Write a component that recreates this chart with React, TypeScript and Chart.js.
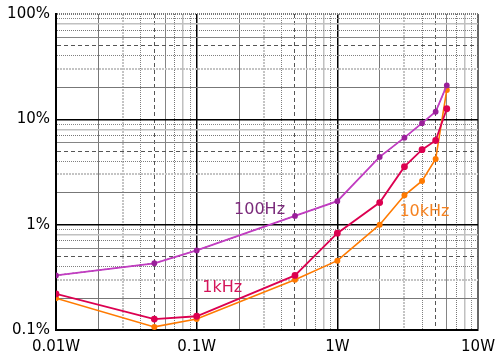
import React, { useEffect, useRef } from 'react';
import { Chart, registerables } from 'chart.js';

Chart.register(...registerables);

// Output power (W)
const powerW = [0.01, 0.05, 0.1, 0.5, 1, 2, 3, 4, 5, 6];
// THD+N (%) per frequency
const thd100Hz = [0.33, 0.43, 0.57, 1.21, 1.67, 4.4, 6.7, 9.2, 11.8, 21];
const thd1kHz = [0.22, 0.127, 0.135, 0.33, 0.83, 1.62, 3.55, 5.15, 6.3, 12.6];
const thd10kHz = [0.2, 0.107, 0.127, 0.3, 0.455, 1.0, 1.9, 2.6, 4.2, 19];

const seriesNames = ['100Hz', '1kHz', '10kHz'];
const seriesColors = ['#c23cc2', '#dc0050', '#ff7a00'];
const labelColors = ['#7a2a7a', '#d4145a', '#f58220'];
// label anchor positions in data units (W, %)
const labelX = [0.28, 0.152, 4.16];
const labelY = [1.39, 0.25, 1.33];

const xDecades = [0.01, 0.1, 1, 10];
const xTickLabels = ['0.01W', '0.1W', '1W', '10W'];
const yDecades = [0.1, 1, 10, 100];
const yTickLabels = ['0.1%', '1%', '10%', '100%'];
const multipliers = [1, 2, 3, 4, 5, 6, 7, 8, 9];

const buildLogTicks = (decades: number[]) => {
  const out: { value: number }[] = [];
  for (let i = 0; i < decades.length - 1; i++) {
    for (const m of multipliers) {
      out.push({ value: Number((decades[i] * m).toPrecision(6)) });
    }
  }
  out.push({ value: decades[decades.length - 1] });
  return out;
};

type GS = { color: string; width: number; dash: number[] };
const minorStyles: Record<number, GS> = {
  1: { color: '#000000', width: 1.5, dash: [] },
  2: { color: '#777777', width: 1, dash: [] },
  3: { color: '#c4c4c4', width: 2, dash: [2, 1] },
  4: { color: '#808080', width: 1, dash: [1, 1] },
  5: { color: '#555555', width: 1, dash: [4, 3] },
  6: { color: '#858585', width: 1, dash: [] },
  7: { color: '#777777', width: 1, dash: [1, 1] },
  8: { color: '#c0c0c0', width: 1.5, dash: [] },
  9: { color: '#858585', width: 1, dash: [1, 1] },
};

const styleFor = (ctx: any, max: number, edge: GS): GS => {
  const v = ctx && ctx.tick ? ctx.tick.value : undefined;
  if (v == null) return minorStyles[1];
  if (Math.abs(v - max) < 1e-9) return edge;
  const e = Math.floor(Math.log10(v) + 1e-9);
  const m = Math.round(v / Math.pow(10, e));
  return minorStyles[m] || minorStyles[2];
};

const xEdge: GS = { color: '#666666', width: 2, dash: [] };
const yEdge: GS = { color: '#777777', width: 2, dash: [1, 1] };

const tickFont = { family: '"DejaVu Sans", sans-serif', size: 15 };

const labelPlugin = {
  id: 'seriesLabels',
  afterDatasetsDraw(chart: any) {
    const { ctx, scales } = chart;
    const x = scales.x;
    const y = scales.y;
    ctx.save();
    ctx.font = '16px "DejaVu Sans", sans-serif';
    ctx.textAlign = 'center';
    ctx.textBaseline = 'middle';
    seriesNames.forEach((n, i) => {
      ctx.fillStyle = labelColors[i];
      ctx.fillText(n, x.getPixelForValue(labelX[i]), y.getPixelForValue(labelY[i]));
    });
    ctx.restore();
  },
};

export default function App() {
  const ref = useRef<HTMLCanvasElement | null>(null);

  useEffect(() => {
    if (!ref.current) return;
    const chart = new Chart(ref.current, {
      type: 'line',
      data: {
        labels: powerW,
        datasets: [
          {
            label: seriesNames[0],
            data: powerW.map((p, i) => ({ x: p, y: thd100Hz[i] })),
            borderColor: seriesColors[0],
            borderWidth: 1.8,
            pointRadius: 2,
            pointBackgroundColor: '#9a209a',
            pointBorderColor: '#9a209a',
            tension: 0,
          },
          {
            label: seriesNames[0] + ' overlay',
            data: powerW.map((p, i) => ({ x: p, y: thd100Hz[i] })),
            borderColor: '#1a1a1a',
            borderWidth: 1,
            borderDash: [2, 2],
            pointRadius: 0,
            tension: 0,
          },
          {
            label: seriesNames[1],
            data: powerW.map((p, i) => ({ x: p, y: thd1kHz[i] })),
            borderColor: seriesColors[1],
            borderWidth: 1.8,
            pointRadius: 2.5,
            pointBackgroundColor: seriesColors[1],
            pointBorderColor: seriesColors[1],
            tension: 0,
          },
          {
            label: seriesNames[2],
            data: powerW.map((p, i) => ({ x: p, y: thd10kHz[i] })),
            borderColor: seriesColors[2],
            borderWidth: 1.6,
            pointRadius: 2.2,
            pointBackgroundColor: seriesColors[2],
            pointBorderColor: seriesColors[2],
            tension: 0,
          },
        ],
      },
      options: {
        animation: false,
        responsive: true,
        maintainAspectRatio: false,
        layout: { padding: { top: 14, right: 22, left: 0, bottom: 0 } },
        plugins: { legend: { display: false }, tooltip: { enabled: false } },
        scales: {
          x: {
            type: 'logarithmic',
            min: 0.01,
            max: 10,
            afterBuildTicks: (scale: any) => {
              scale.ticks = buildLogTicks(xDecades);
            },
            afterFit: (scale: any) => {
              scale.height = 30;
              scale.paddingLeft = 0;
              scale.paddingRight = 0;
            },
            ticks: {
              autoSkip: false,
              maxRotation: 0,
              padding: 8,
              color: '#000',
              font: tickFont,
              callback: (value: any) => {
                const idx = xDecades.findIndex((d) => Math.abs(d - Number(value)) < 1e-9);
                return idx >= 0 ? xTickLabels[idx] : '';
              },
            },
            grid: {
              drawTicks: false,
              color: (ctx: any) => styleFor(ctx, 10, xEdge).color,
              lineWidth: (ctx: any) => styleFor(ctx, 10, xEdge).width,
            },
            border: {
              display: true,
              color: '#000',
              width: 2,
              dash: (ctx: any) => styleFor(ctx, 10, xEdge).dash,
            },
          } as any,
          y: {
            type: 'logarithmic',
            min: 0.1,
            max: 100,
            afterBuildTicks: (scale: any) => {
              scale.ticks = buildLogTicks(yDecades);
            },
            afterFit: (scale: any) => {
              scale.width = 56;
              scale.paddingTop = 0;
              scale.paddingBottom = 0;
            },
            ticks: {
              autoSkip: false,
              padding: 6,
              color: '#000',
              font: tickFont,
              callback: (value: any) => {
                const idx = yDecades.findIndex((d) => Math.abs(d - Number(value)) < 1e-9);
                return idx >= 0 ? yTickLabels[idx] : '';
              },
            },
            grid: {
              drawTicks: false,
              color: (ctx: any) => styleFor(ctx, 100, yEdge).color,
              lineWidth: (ctx: any) => styleFor(ctx, 100, yEdge).width,
            },
            border: {
              display: true,
              color: '#000',
              width: 2,
              dash: (ctx: any) => styleFor(ctx, 100, yEdge).dash,
            },
          } as any,
        },
      } as any,
      plugins: [labelPlugin],
    });
    return () => chart.destroy();
  }, []);

  return (
    <div style={{ position: 'fixed', left: 0, top: 0, width: 500, height: 360, background: '#fff' }}>
      <canvas ref={ref} />
    </div>
  );
}
